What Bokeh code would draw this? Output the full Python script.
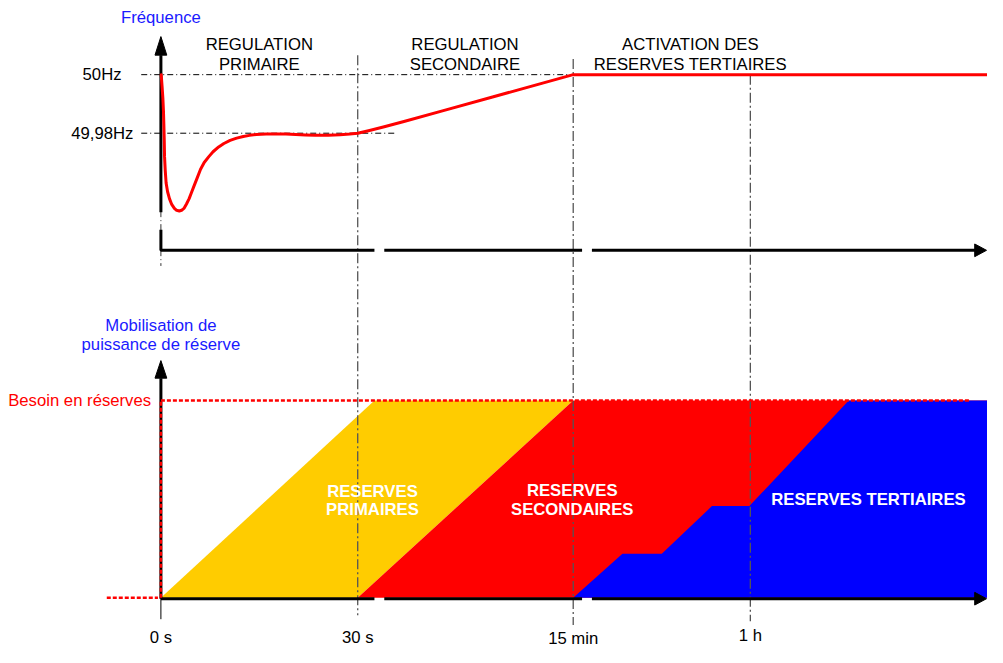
from bokeh.plotting import figure
from bokeh.models import Range1d
from bokeh.core.properties import value
from bokeh.embed import file_html
from bokeh.resources import INLINE

# ---------------- data ----------------
# schematic (non linear) time axis: position of each time mark
tick_x = [163, 363, 582, 762]
tick_labels = ["0 s", "30 s", "15 min", "1 h"]

# phases of the frequency control
phase_center = [263, 472, 701]
phase_line1 = ["REGULATION", "REGULATION", "ACTIVATION DES"]
phase_line2 = ["PRIMAIRE", "SECONDAIRE", "RESERVES TERTIAIRES"]

# frequency after an incident (Hz)
freq_t = [163.3, 164.2, 165, 165.6, 166, 166.4, 166.7, 167.4, 168.3, 169.8,
          171.7, 174, 176.7, 179, 181.7, 184, 186.7, 189, 191.7, 194,
          196.7, 200, 203.3, 207, 211.7, 216, 221.7, 227, 233.3, 240,
          246.7, 253, 260, 270, 280, 290, 300, 310, 320, 333,
          345, 355, 363, 375, 390, 410, 450, 500, 550, 582, 1003]
freq_hz = [50.0, 49.996, 49.992, 49.98767, 49.983, 49.97767, 49.972, 49.96733, 49.963, 49.96,
           49.95767, 49.95567, 49.95433, 49.95367, 49.95343, 49.95367, 49.95443, 49.95583, 49.95767, 49.95967,
           49.962, 49.96483, 49.96767, 49.97, 49.972, 49.97367, 49.97533, 49.9765, 49.97757, 49.97833,
           49.9789, 49.97927, 49.97957, 49.97973, 49.97977, 49.97973, 49.97957, 49.9794, 49.97927, 49.9793,
           49.97947, 49.9797, 49.98, 49.98093, 49.9822, 49.984, 49.98773, 49.99237, 49.99703, 50.0, 50.0]
freq_levels = [50.0, 49.98]
freq_level_labels = ["50Hz", "49,98Hz"]
freq_level_end = [582, 403]

# reserve mobilisation (fraction of the reserve need)
primary_t = [163, 380, 582, 363]
primary_p = [0, 1, 1, 0]
secondary_t = [363, 582, 1003, 1003]
secondary_p = [0, 1, 1, 0]
tertiary_t = [582, 632, 672, 723, 761, 862, 1003, 1003]
tertiary_p = [0, 0.223, 0.223, 0.465, 0.465, 1, 1, 0]
reserve_label_x = [378, 581]
reserve_label_1 = ["RESERVES", "RESERVES"]
reserve_label_2 = ["PRIMAIRES", "SECONDAIRES"]
tertiary_label = "RESERVES TERTIAIRES"
need_level = 1.0

# ---------------- figure ----------------
W, H = 987, 647
RW, RH = 1003, 663  # layout grid of the drawing
p = figure(width=W, height=H, output_backend="svg", toolbar_location=None,
           x_range=Range1d(0, RW), y_range=Range1d(RH, 0),
           min_border=0)
p.axis.visible = False
p.grid.visible = False
p.outline_line_color = None
p.background_fill_color = "white"

# frequency scale: 50 Hz at y=76, 49.98 Hz at y=136
def f_at(y):
    return 50 - (y - 76) / 3000.0
# power scale: 0 at y=612, need at y=410
def pw_at(y):
    return (612 - y) / 202.0

p.extra_y_ranges = {
    "freq": Range1d(start=f_at(RH), end=f_at(0)),
    "power": Range1d(start=pw_at(RH), end=pw_at(0)),
}

FONT = value("Liberation Sans")
FS = "16.7px"

# ---- reserve areas ----
p.patch(primary_t, primary_p, y_range_name="power", fill_color="#FFCC00", line_color=None)
p.patch(secondary_t, secondary_p, y_range_name="power", fill_color="#FF0000", line_color=None)
p.patch(tertiary_t, tertiary_p, y_range_name="power", fill_color="#0000FF", line_color=None)

# ---- vertical dashed time markers ----
mark_top = [56, 60, 76]
mark_bot = [630, 640, 636]
for x, y0, y1 in zip(tick_x[1:], mark_top, mark_bot):
    p.line([x, x], [y0, y1], line_color="#555555", line_width=1.3, line_dash="10 3 2 3")
p.line([tick_x[0], tick_x[0]], [56, 272], line_color="#333333", line_width=1, line_dash="6 3 1 3")
p.line([tick_x[0], tick_x[0]], [612, 634], line_color="black", line_width=1)

# ---- frequency level lines ----
for lvl, xe in zip(freq_levels, freq_level_end):
    p.line([143, xe], [lvl, lvl], y_range_name="freq", line_color="black",
           line_width=1, line_dash="6 3 1 3")

# ---- axes (drawn as thick black lines with breaks) ----
AX = dict(line_color="black", line_width=3)
# top panel
p.line([163, 163], [56, 217], **AX)
p.line([163, 163, 380], [235, 256, 256], **AX)
p.line([390, 591], [256, 256], **AX)
p.line([601, 991], [256, 256], **AX)
p.patch([157, 169, 163], [56, 56, 37], fill_color="black", line_color="black", line_width=1)
p.patch([990, 990, 1002], [249.5, 262.5, 256], fill_color="black", line_color="black", line_width=1)
# bottom panel
p.line([163, 163], [387, 613], **AX)
p.line([163, 380], [613, 613], **AX)
p.line([390, 591], [613, 613], **AX)
p.line([601, 991], [613, 613], **AX)
p.patch([157, 169, 163], [387, 387, 369], fill_color="black", line_color="black", line_width=1)
p.patch([990, 990, 1002], [606.5, 619.5, 613], fill_color="black", line_color="black", line_width=1)

# ---- reserve need (red dotted) ----
RD = dict(line_color="#FF0000", line_width=2.5, line_dash="4 2")
p.line([163, 985], [need_level, need_level], y_range_name="power", **RD)
p.line([108, 160], [0, 0], y_range_name="power", **RD)
p.line([163, 163], [0, need_level], y_range_name="power", **RD)

# ---- frequency curve ----
p.line(freq_t, freq_hz, y_range_name="freq", line_color="#FF0000", line_width=3,
       line_join="round", line_cap="round")

# ---- texts ----
p.text(x=[163], y=[17], text=["Fréquence"], text_color="#1a1aff", text_font=FONT,
       text_font_size=FS, text_align="center", text_baseline="middle")
p.text(x=phase_center, y=[45] * 3, text=phase_line1, text_color="black", text_font=FONT,
       text_font_size=FS, text_align="center", text_baseline="middle")
p.text(x=phase_center, y=[66] * 3, text=phase_line2, text_color="black", text_font=FONT,
       text_font_size=FS, text_align="center", text_baseline="middle")
p.text(x=[123, 135], y=freq_levels, y_range_name="freq", text=freq_level_labels,
       text_color="black", text_font=FONT, text_font_size=FS, text_align="right",
       text_baseline="middle")
p.text(x=[163, 163], y=[333, 353], text=["Mobilisation de", "puissance de réserve"],
       text_color="#1a1aff", text_font=FONT, text_font_size=FS, text_align="center",
       text_baseline="middle")
p.text(x=[153], y=[need_level], y_range_name="power", text=["Besoin en réserves"],
       text_color="#FF0000", text_font=FONT, text_font_size=FS, text_align="right",
       text_baseline="middle")
p.text(x=reserve_label_x, y=[503, 502], text=reserve_label_1, text_color="white",
       text_font=FONT, text_font_size=FS, text_font_style="bold", text_align="center",
       text_baseline="middle")
p.text(x=reserve_label_x, y=[522, 522], text=reserve_label_2, text_color="white",
       text_font=FONT, text_font_size=FS, text_font_style="bold", text_align="center",
       text_baseline="middle")
p.text(x=[882], y=[511], text=[tertiary_label], text_color="white",
       text_font=FONT, text_font_size=FS, text_font_style="bold", text_align="center",
       text_baseline="middle")
p.text(x=tick_x, y=[653, 653, 654, 651], text=tick_labels, text_color="black",
       text_font=FONT, text_font_size=FS, text_align="center", text_baseline="middle")

open("out.html", "w").write(file_html(p, INLINE))
